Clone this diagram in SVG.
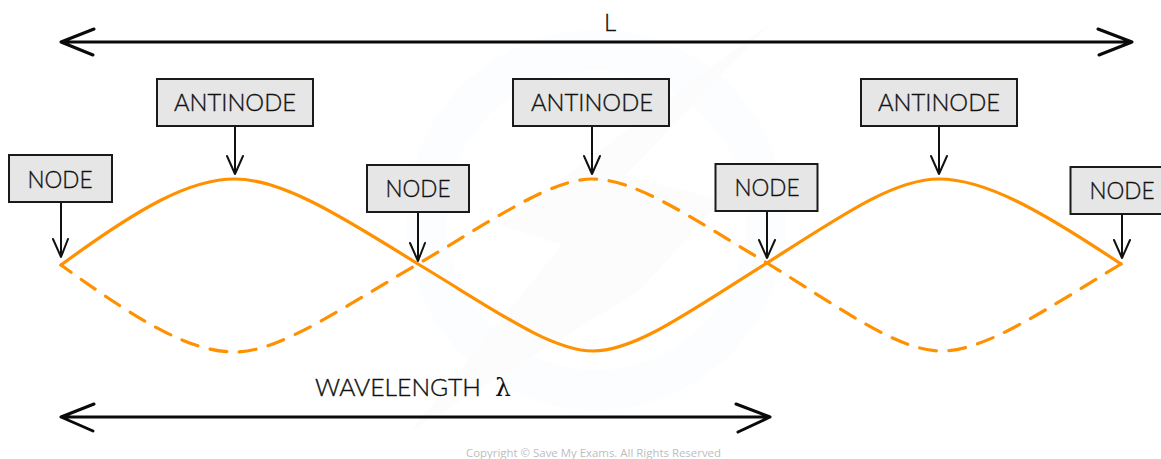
<svg xmlns="http://www.w3.org/2000/svg" width="1161" height="459" viewBox="0 0 1161 459">
<style>
text{font-family:"Lato","Liberation Sans",sans-serif;font-weight:300;fill:#111;stroke:#111;stroke-width:.35px}
.lbl{font-size:24px;text-anchor:middle}
.box{fill:#e6e6e6;stroke:#1a1a1a;stroke-width:2}
.ptr{fill:none;stroke:#111;stroke-width:2;stroke-linecap:round;stroke-linejoin:round}
.dim{fill:none;stroke:#0a0a0a;stroke-width:3;stroke-linecap:round;stroke-linejoin:round}
.wave{fill:none;stroke:#ff9100;stroke-width:3.200;stroke-linecap:round}
.dash{stroke-dasharray:17 12.500;stroke-dashoffset:5}
</style>
<rect width="1161" height="459" fill="#fff"/>
<g id="watermark" fill="none">
<circle cx="596" cy="220" r="170" stroke="#fbfdfe" stroke-width="40"/>
<path d="M772 22L500 225L562 245L410 432L640 290L722 200L625 176Z" fill="#fcfcfc"/>
</g>
<g id="connectors">
<path class="dim" d="M61 42H1132M94 29L61 42L93 55M1098 29L1132 42L1099 55"/>
<path class="dim" d="M61 417H770M94 404L61 417L93 431M736 404L770 417L738 432"/>
<path class="ptr" d="M61 203V257M53 239L61 257L68 239"/>
<path class="ptr" d="M235 127V174M227 156L235 174L243 156"/>
<path class="ptr" d="M418 212V261M410 243L418 261L425 243"/>
<path class="ptr" d="M592 127V174M584 156L592 174L600 156"/>
<path class="ptr" d="M767 211V258M759 240L767 258L775 240"/>
<path class="ptr" d="M939 127V174M931 156L939 174L947 156"/>
<path class="ptr" d="M1122 214V258M1114 240L1122 258L1130 240"/>
</g>
<g id="wave-solid"><path class="wave" d="M61 265C140 207 190 179 235 179C280 179 335 212 418 264C490 307 550 351 593 351C636 351 690 311 767 263C845 213 895 179 939 179C985 179 1040 210 1121 264"/></g>
<g id="wave-dashed"><path class="wave dash" d="M61 265C140 322 190 352 235 352C280 352 345 306 418 264C490 222 550 179 592 179C636 179 690 217 767 263C845 311 898 351 942 351C985 351 1045 310 1121 264"/></g>
<g id="node-1"><rect class="box" x="9" y="155" width="103" height="47"/><text class="lbl" x="60" y="188" textLength="65" lengthAdjust="spacingAndGlyphs">NODE</text></g>
<g id="antinode-1"><rect class="box" x="157" y="79" width="156" height="47"/><text class="lbl" x="235" y="111" textLength="122" lengthAdjust="spacingAndGlyphs">ANTINODE</text></g>
<g id="node-2"><rect class="box" x="367" y="165" width="102" height="47"/><text class="lbl" x="418" y="197" textLength="65" lengthAdjust="spacingAndGlyphs">NODE</text></g>
<g id="antinode-2"><rect class="box" x="513" y="79" width="156" height="47"/><text class="lbl" x="592" y="111" textLength="122" lengthAdjust="spacingAndGlyphs">ANTINODE</text></g>
<g id="node-3"><rect class="box" x="715.500" y="164" width="102" height="47"/><text class="lbl" x="767" y="196" textLength="65" lengthAdjust="spacingAndGlyphs">NODE</text></g>
<g id="antinode-3"><rect class="box" x="861" y="79" width="156" height="47"/><text class="lbl" x="939" y="111" textLength="122" lengthAdjust="spacingAndGlyphs">ANTINODE</text></g>
<g id="node-4"><rect class="box" x="1070.500" y="167" width="103" height="47"/><text class="lbl" x="1122" y="199" textLength="65" lengthAdjust="spacingAndGlyphs">NODE</text></g>
<g id="labels">
<text x="604" y="31" font-size="24">L</text>
<text x="315" y="396" font-size="24" textLength="166" lengthAdjust="spacingAndGlyphs">WAVELENGTH</text>
<text x="495" y="396" font-size="25" style="font-family:'DejaVu Serif',serif;font-weight:400;stroke:none">λ</text>
<text x="466" y="457" font-size="11.500" textLength="255" lengthAdjust="spacingAndGlyphs" style="font-family:'Open Sans',sans-serif;font-weight:400;fill:#bdbdbd;stroke:none">Copyright © Save My Exams. All Rights Reserved</text>
</g>
</svg>
